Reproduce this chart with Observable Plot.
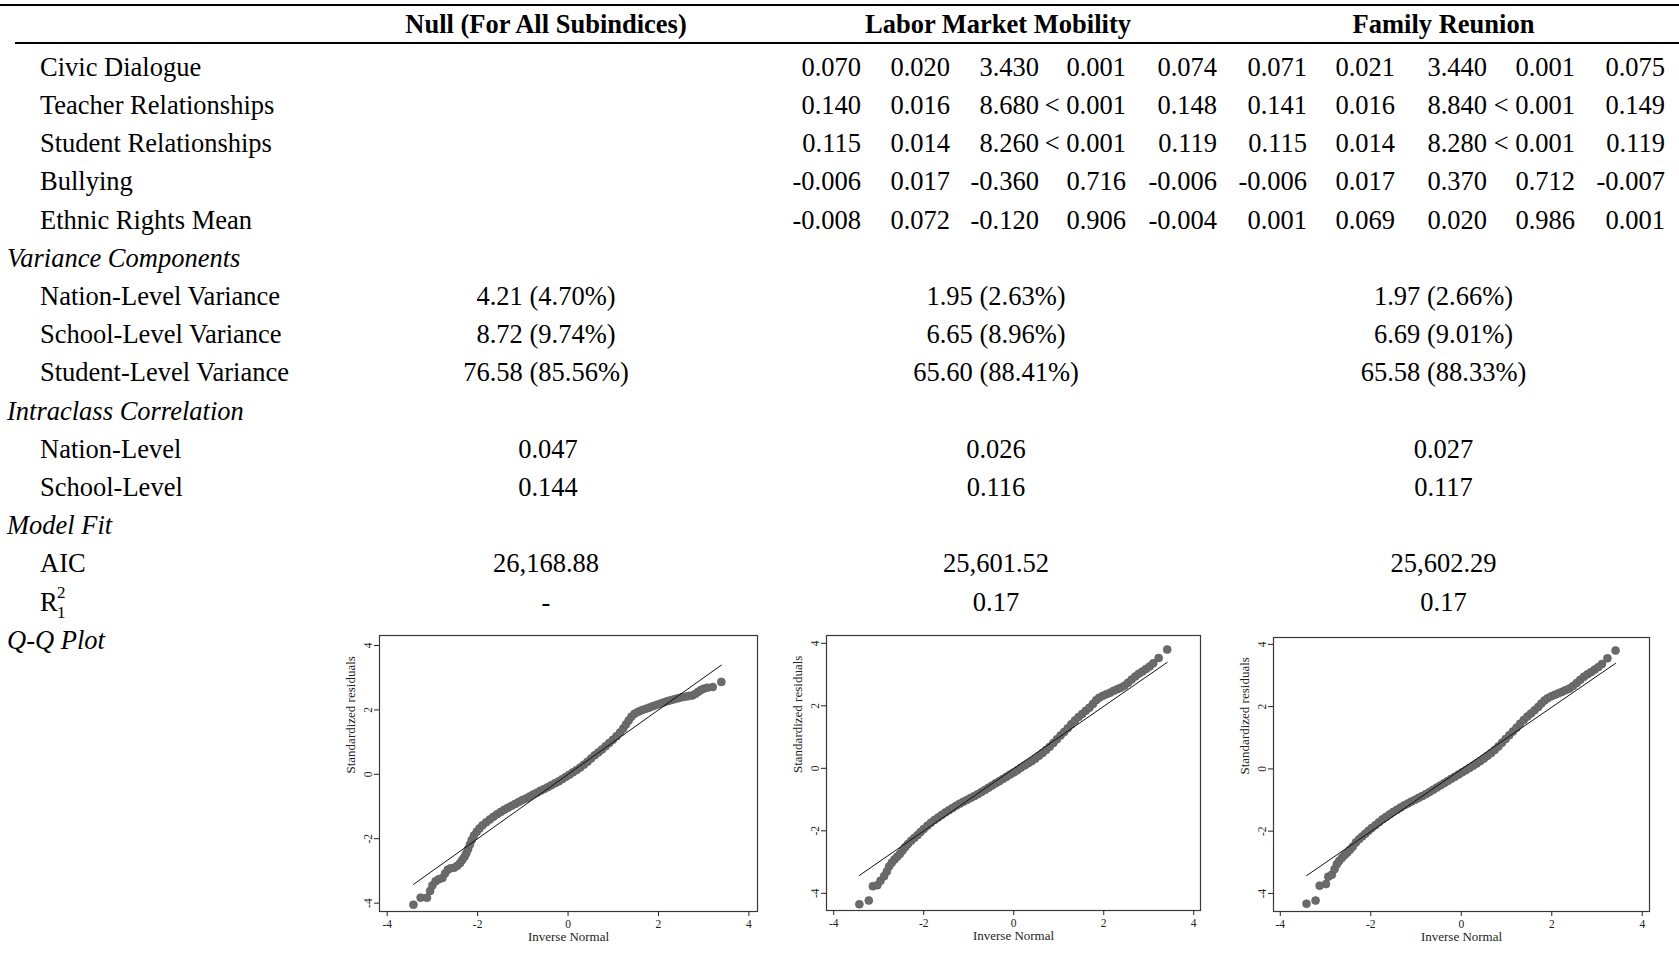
<!DOCTYPE html>
<html><head><meta charset="utf-8">
<script src="https://cdn.jsdelivr.net/npm/d3@7"></script>
<script src="https://cdn.jsdelivr.net/npm/@observablehq/plot@0.6"></script>
<style>
html,body{margin:0;padding:0;background:#fff;}
#page{position:relative;width:1679px;height:963px;overflow:hidden;font-family:"Liberation Serif","Times New Roman",serif;color:#000;}
.t{position:absolute;white-space:nowrap;font-size:26.5px;line-height:26.5px;}
.b{font-weight:bold;}
.i{font-style:italic;}
.sm{font-size:17px;line-height:17px;}
.rule{position:absolute;background:#000;}
.qq{position:absolute;}
</style></head><body><div id="page"></div>
<script>
// ---------- data ----------
const modelNames = ["Null (For All Subindices)", "Labor Market Mobility", "Family Reunion"];
const predictorRows = ["Civic Dialogue", "Teacher Relationships", "Student Relationships", "Bullying", "Ethnic Rights Mean"];
const lmmCoef = [
  ["0.070", "0.020", "3.430", "0.001", "0.074"],
  ["0.140", "0.016", "8.680", "< 0.001", "0.148"],
  ["0.115", "0.014", "8.260", "< 0.001", "0.119"],
  ["-0.006", "0.017", "-0.360", "0.716", "-0.006"],
  ["-0.008", "0.072", "-0.120", "0.906", "-0.004"]
];
const frCoef = [
  ["0.071", "0.021", "3.440", "0.001", "0.075"],
  ["0.141", "0.016", "8.840", "< 0.001", "0.149"],
  ["0.115", "0.014", "8.280", "< 0.001", "0.119"],
  ["-0.006", "0.017", "0.370", "0.712", "-0.007"],
  ["0.001", "0.069", "0.020", "0.986", "0.001"]
];
const varianceRows = ["Nation-Level Variance", "School-Level Variance", "Student-Level Variance"];
const varianceNull = ["4.21 (4.70%)", "8.72 (9.74%)", "76.58 (85.56%)"];
const varianceLmm = ["1.95 (2.63%)", "6.65 (8.96%)", "65.60 (88.41%)"];
const varianceFr = ["1.97 (2.66%)", "6.69 (9.01%)", "65.58 (88.33%)"];
const iccRows = ["Nation-Level", "School-Level"];
const iccNull = ["0.047", "0.144"];
const iccLmm = ["0.026", "0.116"];
const iccFr = ["0.027", "0.117"];
const fitAIC = ["26,168.88", "25,601.52", "25,602.29"];
const fitR2 = ["-", "0.17", "0.17"];
const sectionTitles = ["Variance Components", "Intraclass Correlation", "Model Fit", "Q-Q Plot"];

const qqTicks = [-4, -2, 0, 2, 4];
const qqXLabel = "Inverse Normal";
const qqYLabel = "Standardized residuals";

// Q-Q plot, Null model
const qq1X = [-3.42,-3.26,-3.12,-3.05,-3.00,-2.93,-2.86,-2.78,-2.72,-2.66,-2.60,-2.52,-2.45,-2.39,-2.34,-2.29,-2.25,-2.21,-2.17,-2.13,-2.08,-2.02,-1.96,-1.89,-1.81,-1.73,-1.65,-1.57,-1.49,-1.41,-1.33,-1.25,-1.17,-1.09,-1.01,-0.93,-0.85,-0.77,-0.69,-0.61,-0.53,-0.45,-0.37,-0.29,-0.21,-0.13,-0.05,0.03,0.11,0.19,0.27,0.35,0.43,0.51,0.59,0.67,0.75,0.83,0.91,0.99,1.07,1.15,1.22,1.28,1.34,1.40,1.47,1.55,1.63,1.71,1.79,1.87,1.95,2.03,2.11,2.19,2.27,2.35,2.43,2.51,2.59,2.67,2.75,2.82,2.88,2.94,3.00,3.08,3.20,3.39];
const qq1Y = [-4.05,-3.83,-3.83,-3.62,-3.45,-3.32,-3.26,-3.22,-3.08,-2.96,-2.92,-2.90,-2.84,-2.76,-2.66,-2.56,-2.45,-2.32,-2.18,-2.04,-1.90,-1.78,-1.68,-1.58,-1.49,-1.40,-1.32,-1.24,-1.17,-1.10,-1.04,-0.98,-0.92,-0.86,-0.80,-0.75,-0.69,-0.63,-0.57,-0.51,-0.46,-0.40,-0.34,-0.28,-0.22,-0.15,-0.08,-0.01,0.06,0.13,0.21,0.30,0.39,0.49,0.59,0.68,0.77,0.87,0.97,1.07,1.18,1.30,1.42,1.55,1.67,1.79,1.88,1.94,1.99,2.03,2.07,2.11,2.15,2.19,2.23,2.27,2.30,2.33,2.36,2.39,2.41,2.43,2.45,2.50,2.56,2.62,2.66,2.69,2.71,2.87];
const ref1X = [-3.42, 3.39];
const ref1Y = [-3.42, 3.39];

// Q-Q plot, Labor Market Mobility
const qq2X = [-3.43,-3.22,-3.13,-3.03,-2.96,-2.88,-2.82,-2.77,-2.71,-2.65,-2.59,-2.53,-2.47,-2.41,-2.35,-2.28,-2.21,-2.14,-2.07,-2.00,-1.92,-1.84,-1.76,-1.68,-1.60,-1.52,-1.44,-1.36,-1.28,-1.20,-1.12,-1.04,-0.96,-0.88,-0.80,-0.72,-0.64,-0.56,-0.48,-0.40,-0.32,-0.24,-0.16,-0.08,0.00,0.08,0.16,0.24,0.32,0.40,0.48,0.56,0.64,0.72,0.80,0.88,0.96,1.04,1.12,1.20,1.28,1.36,1.44,1.52,1.60,1.68,1.76,1.83,1.90,1.98,2.06,2.14,2.22,2.30,2.38,2.46,2.54,2.62,2.70,2.78,2.86,2.94,3.02,3.10,3.22,3.41];
const qq2Y = [-4.35,-4.23,-3.77,-3.74,-3.60,-3.45,-3.30,-3.14,-3.02,-2.92,-2.83,-2.74,-2.63,-2.52,-2.42,-2.32,-2.23,-2.14,-2.04,-1.94,-1.84,-1.74,-1.65,-1.57,-1.49,-1.41,-1.34,-1.27,-1.20,-1.13,-1.07,-1.01,-0.95,-0.89,-0.83,-0.76,-0.69,-0.62,-0.55,-0.48,-0.41,-0.34,-0.27,-0.20,-0.13,-0.06,0.02,0.09,0.16,0.23,0.31,0.40,0.49,0.59,0.69,0.81,0.93,1.05,1.16,1.28,1.41,1.53,1.64,1.74,1.84,1.94,2.06,2.18,2.26,2.32,2.37,2.42,2.48,2.53,2.58,2.64,2.74,2.84,2.94,3.03,3.10,3.18,3.26,3.36,3.53,3.80];
const ref2X = [-3.43, 3.41];
const ref2Y = [-3.43, 3.39];

// Q-Q plot, Family Reunion
const qq3X = [-3.42,-3.22,-3.13,-2.99,-2.94,-2.86,-2.80,-2.75,-2.70,-2.64,-2.58,-2.52,-2.46,-2.40,-2.33,-2.26,-2.19,-2.12,-2.05,-1.98,-1.90,-1.82,-1.74,-1.66,-1.58,-1.50,-1.42,-1.34,-1.26,-1.18,-1.10,-1.02,-0.94,-0.86,-0.78,-0.70,-0.62,-0.54,-0.46,-0.38,-0.30,-0.22,-0.14,-0.06,0.02,0.10,0.18,0.26,0.34,0.42,0.50,0.58,0.66,0.74,0.82,0.90,0.98,1.06,1.14,1.22,1.30,1.38,1.46,1.54,1.62,1.70,1.77,1.84,1.91,1.99,2.07,2.15,2.23,2.31,2.39,2.47,2.55,2.63,2.71,2.79,2.87,2.95,3.03,3.11,3.23,3.41];
const qq3Y = [-4.33,-4.23,-3.75,-3.70,-3.46,-3.40,-3.22,-3.06,-2.96,-2.86,-2.77,-2.69,-2.60,-2.50,-2.36,-2.26,-2.17,-2.08,-1.99,-1.90,-1.81,-1.71,-1.62,-1.54,-1.46,-1.38,-1.31,-1.24,-1.17,-1.11,-1.05,-0.99,-0.93,-0.87,-0.81,-0.74,-0.67,-0.60,-0.53,-0.46,-0.39,-0.32,-0.25,-0.18,-0.11,-0.04,0.03,0.10,0.17,0.25,0.33,0.42,0.51,0.61,0.72,0.84,0.96,1.08,1.20,1.32,1.45,1.57,1.68,1.78,1.88,1.99,2.10,2.20,2.27,2.33,2.38,2.43,2.48,2.53,2.58,2.66,2.76,2.86,2.96,3.04,3.11,3.19,3.27,3.37,3.55,3.80];
const ref3X = [-3.42, 3.41];
const ref3Y = [-3.43, 3.39];

// ---------- layout ----------
const page = document.getElementById("page");
const FS = 26.5, ASC = 0.8375 * FS;
const ROW0 = 76, ROWSTEP = 38.2, HEADER_BASE = 32.7;
const LABEL_X = 40, SECTION_X = 7;
const headerCenters = [546, 998, 1443.5];
const lmmRight = [861, 950, 1039, 1126, 1217];
const frRight = [1307, 1395, 1487, 1575, 1665];

function put(text, x, baseline, anchor = "start", cls = "", asc = ASC) {
  const d = document.createElement("div");
  d.className = "t " + cls;
  d.textContent = text;
  d.style.left = x + "px";
  d.style.top = (baseline - asc) + "px";
  if (anchor === "end") d.style.transform = "translateX(-100%)";
  else if (anchor === "middle") d.style.transform = "translateX(-50%)";
  page.appendChild(d);
  return d;
}
function rule(x, y, w, h) {
  const d = document.createElement("div");
  d.className = "rule";
  Object.assign(d.style, {left: x + "px", top: y + "px", width: w + "px", height: h + "px"});
  page.appendChild(d);
}
const base = i => ROW0 + ROWSTEP * i;

rule(0, 3.5, 1679, 2.2);
rule(15, 42.2, 1664, 2.2);
modelNames.forEach((m, k) => put(m, headerCenters[k], HEADER_BASE, "middle", "b"));

predictorRows.forEach((lab, i) => {
  put(lab, LABEL_X, base(i));
  lmmCoef[i].forEach((v, j) => put(v, lmmRight[j], base(i), "end"));
  frCoef[i].forEach((v, j) => put(v, frRight[j], base(i), "end"));
});
put(sectionTitles[0], SECTION_X, base(5), "start", "i");
varianceRows.forEach((lab, i) => {
  const r = 6 + i;
  put(lab, LABEL_X, base(r));
  put(varianceNull[i], headerCenters[0], base(r), "middle");
  put(varianceLmm[i], headerCenters[1] - 2, base(r), "middle");
  put(varianceFr[i], headerCenters[2], base(r), "middle");
});
put(sectionTitles[1], SECTION_X, base(9), "start", "i");
iccRows.forEach((lab, i) => {
  const r = 10 + i;
  put(lab, LABEL_X, base(r));
  put(iccNull[i], headerCenters[0] + 2, base(r), "middle");
  put(iccLmm[i], headerCenters[1] - 2, base(r), "middle");
  put(iccFr[i], headerCenters[2], base(r), "middle");
});
put(sectionTitles[2], SECTION_X, base(12), "start", "i");
put("AIC", LABEL_X, base(13));
fitAIC.forEach((v, k) => put(v, headerCenters[k] + (k === 1 ? -2 : 0), base(13), "middle"));
// R squared with stacked super/subscript
put("R", LABEL_X, base(14));
put("2", LABEL_X + 17, base(14) - 13, "start", "sm", 0.8375 * 17);
put("1", LABEL_X + 17, base(14) + 7, "start", "sm", 0.8375 * 17);
fitR2.forEach((v, k) => put(v, headerCenters[k] + (k === 1 ? -2 : 0), base(14), "middle"));
put(sectionTitles[3], SECTION_X, base(15), "start", "i");

// ---------- Q-Q plots ----------
const zip = (xs, ys) => xs.slice(0, Math.min(xs.length, ys.length)).map((x, i) => ({x, y: ys[i]}));
const qqSets = [
  {pts: zip(qq1X, qq1Y), ref: zip(ref1X, ref1Y)},
  {pts: zip(qq2X, qq2Y), ref: zip(ref2X, ref2Y)},
  {pts: zip(qq3X, qq3Y), ref: zip(ref3X, ref3Y)}
];
const qqLayout = [
  {left: 379, top: 635, w: 378, h: 276, xd: [-4.17, 4.19], yd: [-4.26, 4.31]},
  {left: 826, top: 635, w: 374, h: 275, xd: [-4.16, 4.15], yd: [-4.55, 4.25]},
  {left: 1273, top: 637, w: 376, h: 274, xd: [-4.15, 4.16], yd: [-4.58, 4.22]}
];
const ML = 52, MR = 12, MT = 8, MB = 50;
qqSets.forEach((s, k) => {
  const L = qqLayout[k];
  const chart = Plot.plot({
    width: L.w + ML + MR,
    height: L.h + MT + MB,
    marginLeft: ML, marginRight: MR, marginTop: MT, marginBottom: MB,
    x: {domain: L.xd},
    y: {domain: L.yd},
    style: {fontFamily: '"Liberation Serif", "Times New Roman", serif', fontSize: "11.5px", color: "#222", background: "transparent", overflow: "visible"},
    marks: [
      Plot.dot(s.pts, {x: "x", y: "y", r: 4, fill: "#6b6b6b", stroke: "#5c5c5c", strokeWidth: 0.6}),
      Plot.line(s.ref, {x: "x", y: "y", stroke: "#111", strokeWidth: 1}),
      Plot.frame({stroke: "#3a3a3a", strokeWidth: 1.2}),
      Plot.axisX({ticks: qqTicks, tickSize: 5, tickPadding: 3, tickFormat: d => String(d), label: null}),
      Plot.axisY({ticks: qqTicks, tickSize: 5, tickPadding: 3, tickRotate: -90, tickFormat: d => String(d), label: null}),
      Plot.text([qqXLabel], {text: d => d, frameAnchor: "bottom", dy: 29, fontSize: 13}),
      Plot.text([qqYLabel], {text: d => d, frameAnchor: "left", dx: -29, rotate: -90, fontSize: 13})
    ]
  });
  chart.classList.add("qq");
  chart.style.left = (L.left - ML) + "px";
  chart.style.top = (L.top - MT) + "px";
  page.appendChild(chart);
});
</script></body></html>
